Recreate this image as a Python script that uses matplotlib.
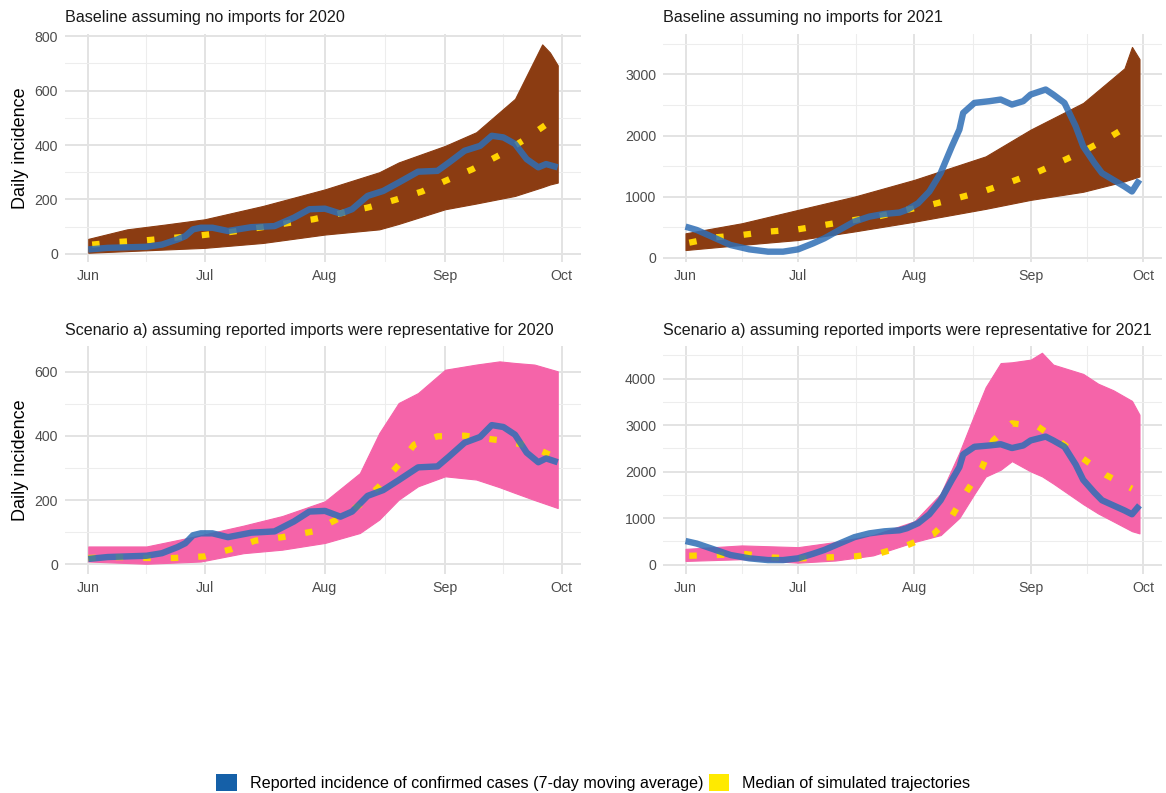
import matplotlib
matplotlib.use("Agg")
import matplotlib.pyplot as plt
from matplotlib.patches import Patch
from matplotlib.ticker import MultipleLocator
import numpy as np

plt.rcParams['font.family'] = ['Liberation Sans', 'DejaVu Sans']

# x values are days since 1 June of each year
# reported incidence (7-day moving average)
obs20_day = [0, 5, 15, 19, 23, 25, 27, 29, 32, 36, 42, 48, 53, 57, 61, 65, 68, 72, 76,
             80, 85, 90, 93, 97, 101, 104, 107, 110, 113, 116, 118, 121]
obs20_val = [16, 22, 26, 34, 53, 65, 90, 96, 96, 84, 98, 102, 133, 164, 166, 148, 164, 213, 231,
             262, 302, 305, 336, 379, 397, 434, 428, 404, 348, 318, 330, 318]

obs21_day = [0, 3, 7, 12, 17, 22, 26, 30, 34, 37, 41, 45, 49, 53, 57, 59, 62, 65, 68, 71, 73,
             74, 77, 81, 84, 87, 90, 92, 96, 98, 101, 104, 106, 109, 111, 114, 117, 119, 121]
obs21_val = [509, 454, 345, 208, 137, 99, 99, 137, 235, 317, 454, 591, 673, 717, 739, 783, 892,
             1084, 1385, 1823, 2097, 2370, 2534, 2562, 2589, 2507, 2562, 2671, 2753, 2671, 2534,
             2151, 1823, 1549, 1385, 1275, 1166, 1084, 1275]

# baseline, no imports: median and envelope of simulated trajectories
base20_med_day = [1, 8, 15, 22, 29, 37, 44, 51, 58, 65, 72, 79, 86, 92, 99, 106, 112, 118]
base20_med = [34, 44, 50, 59, 68, 81, 96, 112, 127, 149, 170, 198, 229, 268, 311, 363, 416, 475]
base20_env_day = [0, 10, 20, 30, 45, 61, 75, 80, 92, 100, 110, 117, 119, 121]
base20_lo = [4, 10, 16, 22, 40, 71, 90, 110, 164, 185, 213, 245, 255, 262]
base20_hi = [55, 90, 108, 127, 176, 237, 300, 336, 397, 447, 570, 770, 740, 693]

base21_med_day = [1, 8, 15, 22, 30, 37, 44, 52, 59, 66, 73, 80, 87, 94, 100, 106, 113, 119]
base21_med = [246, 334, 372, 427, 465, 536, 608, 684, 783, 876, 985, 1100, 1248, 1407, 1571,
              1741, 1971, 2195]
base21_env_day = [0, 15, 30, 45, 61, 80, 92, 106, 117, 119, 121]
base21_lo = [126, 210, 290, 430, 590, 800, 947, 1080, 1250, 1290, 1330]
base21_hi = [400, 564, 783, 1000, 1275, 1659, 2097, 2534, 3100, 3450, 3250]

# scenario a), reported imports representative
scen20_med_day = [0, 8, 15, 22, 30, 37, 43, 50, 58, 64, 70, 75, 80, 84, 90, 97, 100, 107, 114, 120]
scen20_med = [19, 22, 19, 19, 24, 47, 73, 84, 102, 139, 185, 243, 310, 373, 399, 401, 396, 385,
              368, 336]
scen20_env_day = [0, 15, 29, 40, 50, 61, 70, 75, 80, 85, 92, 100, 106, 110, 115, 121]
scen20_lo = [8, 1, 8, 34, 45, 66, 97, 139, 201, 243, 274, 264, 240, 222, 200, 175]
scen20_hi = [55, 55, 90, 120, 150, 196, 284, 409, 503, 534, 607, 623, 633, 628, 623, 602]

scen21_med_day = [1, 8, 16, 23, 30, 37, 45, 52, 59, 66, 71, 75, 79, 82, 87, 94, 100, 106, 112, 119]
scen21_med = [192, 207, 229, 155, 133, 155, 177, 251, 414, 651, 1043, 1582, 2078, 2669, 3039,
              2965, 2632, 2277, 1930, 1634]
scen21_env_day = [0, 15, 30, 40, 50, 61, 68, 73, 77, 80, 84, 87, 92, 95, 98, 106, 110, 114,
                  119, 121]
scen21_lo = [81, 118, 44, 90, 200, 488, 636, 1006, 1523, 1893, 2041, 2226, 2004, 1900, 1745,
             1301, 1100, 932, 720, 673]
scen21_hi = [340, 414, 377, 488, 636, 932, 1523, 2410, 3224, 3815, 4333, 4350, 4407, 4555,
             4300, 4100, 3889, 3750, 3520, 3224]

month_days = [0, 30, 61, 92, 122]
month_labels = ['Jun', 'Jul', 'Aug', 'Sep', 'Oct']
month_minor = [15, 45.5, 76.5, 107]

titles = ["Baseline assuming no imports for 2020",
          "Baseline assuming no imports for 2021",
          "Scenario a) assuming reported imports were representative for 2020",
          "Scenario a) assuming reported imports were representative for 2021"]

brown = '#8B3C12'
pink = '#F564A9'
blue = '#2F6EB5'
gold = '#FFD400'

fig = plt.figure(figsize=(11.66, 7.93), dpi=100)
fig.patch.set_facecolor('white')

W, H = 1166, 793
boxes = [(65, 33.5, 581, 262), (663, 33.5, 1162, 262),
         (65, 346, 581, 574), (663, 346, 1162, 574)]
axes = [fig.add_axes([l / W, 1 - b / H, (r - l) / W, (b - t) / H]) for l, t, r, b in boxes]

panels = [
    (base20_env_day, base20_lo, base20_hi, brown, base20_med_day, base20_med, obs20_day, obs20_val, (-30, 810), 200),
    (base21_env_day, base21_lo, base21_hi, brown, base21_med_day, base21_med, obs21_day, obs21_val, (-70, 3670), 1000),
    (scen20_env_day, scen20_lo, scen20_hi, pink, scen20_med_day, scen20_med, obs20_day, obs20_val, (-31, 681), 200),
    (scen21_env_day, scen21_lo, scen21_hi, pink, scen21_med_day, scen21_med, obs21_day, obs21_val, (-200, 4700), 1000),
]

for i, (ax, p) in enumerate(zip(axes, panels)):
    env_d, lo, hi, col, med_d, med, ob_d, ob, ylim, step = p
    ax.fill_between(env_d, lo, hi, color=col, lw=0.8, edgecolor=col, zorder=2)
    ax.plot(med_d, med, color=gold, lw=4.5, linestyle=(0, (1.2, 3.2)),
            dash_capstyle='butt', zorder=3)
    ax.plot(ob_d, ob, color=blue, lw=4.6, alpha=0.85, solid_capstyle='butt', zorder=4)

    ax.set_xlim(-6, 127)
    ax.set_ylim(*ylim)
    ax.set_xticks(month_days)
    ax.set_xticklabels(month_labels)
    ax.set_xticks(month_minor, minor=True)
    ax.yaxis.set_major_locator(MultipleLocator(step))
    ax.yaxis.set_minor_locator(MultipleLocator(step / 2))
    ax.grid(True, which='major', color='#E3E3E3', lw=1.4, zorder=0)
    ax.grid(True, which='minor', color='#EDEDED', lw=0.8, zorder=0)
    ax.set_axisbelow(True)
    for s in ax.spines.values():
        s.set_visible(False)
    ax.tick_params(which='both', length=0, colors='#4D4D4D', labelsize=10.2, pad=5)
    ax.set_title(titles[i], loc='left', fontsize=11.6, pad=8, color='#1A1A1A')
    if i % 2 == 0:
        ax.set_ylabel('Daily incidence', fontsize=13, labelpad=4)

handles = [Patch(facecolor='#1560A8', edgecolor='none'),
           Patch(facecolor='#FFEA00', edgecolor='none')]
fig.legend(handles, ['Reported incidence of confirmed cases (7-day moving average)',
                     'Median of simulated trajectories'],
           loc='lower center', bbox_to_anchor=(0.509, -0.016), ncol=2, frameon=False,
           fontsize=11.6, handlelength=1.25, handleheight=1.25, handletextpad=0.85,
           columnspacing=0.3)

fig.savefig('out.png', dpi=100, facecolor='white')
